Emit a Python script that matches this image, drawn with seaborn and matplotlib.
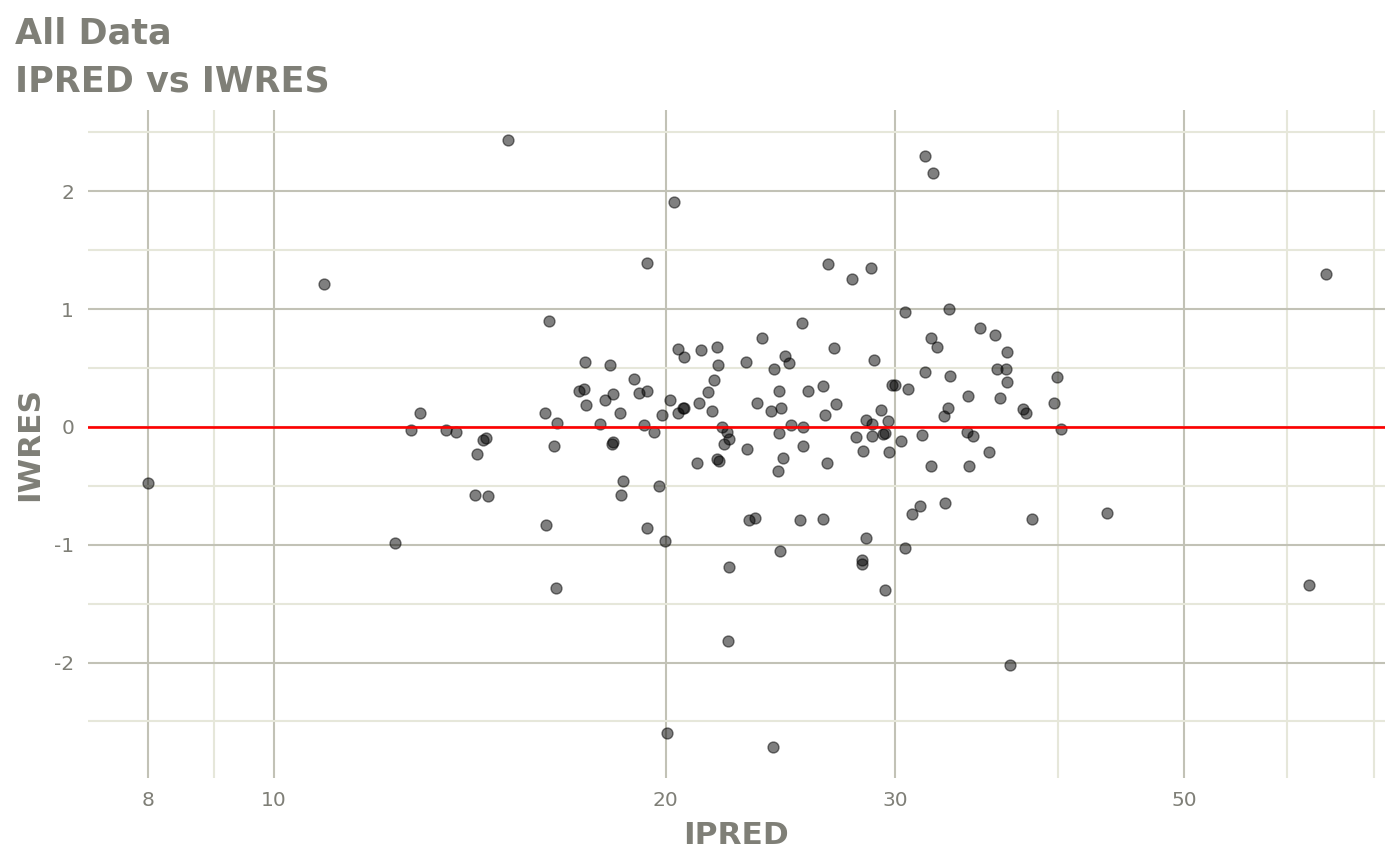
import matplotlib
matplotlib.use("Agg")
import matplotlib.pyplot as plt
import matplotlib.ticker as mticker
import seaborn as sns
import pandas as pd

# ---- data ----
ipred = [
    8.00, 10.93, 12.38, 12.74, 12.94, 13.55, 13.80, 14.32, 14.47, 14.55, 14.27, 14.60, 15.12,
    16.26, 17.33, 18.13, 17.14, 17.29, 17.35, 17.95, 18.21, 18.43, 18.92, 19.07, 19.34,
    20.13, 19.87, 20.43, 20.62, 20.65, 20.43, 20.64, 21.27, 21.21, 16.15, 16.49, 17.81,
    19.23, 19.59, 16.42, 18.20, 18.18, 21.12, 18.53, 18.47, 19.76, 16.18, 19.34, 19.96,
    25.44, 23.69, 21.90, 21.93, 23.06, 24.20, 24.71, 24.88, 26.91, 28.90, 30.52, 21.78,
    21.56, 21.70, 23.50, 24.43, 24.10, 24.53, 25.72, 26.40, 27.02, 26.48, 29.85, 29.98,
    30.70, 29.26, 28.48, 28.82, 29.63, 22.10, 22.30, 22.38, 22.15, 24.94, 25.48, 24.42,
    23.08, 25.51, 24.61, 24.38, 26.61, 28.01, 28.33, 28.78, 29.35, 29.47, 29.68, 30.29,
    21.91, 21.98, 23.15, 23.40, 25.35, 26.41, 28.48, 30.52, 24.46, 28.31, 28.31, 22.38,
    33.02, 34.84, 35.81, 31.99, 32.33, 36.60, 31.61, 33.08, 35.90, 36.51, 36.60, 39.92,
    34.15, 36.09, 39.71, 32.93, 32.73, 37.65, 37.82, 40.23, 31.47, 34.07, 34.41, 35.43,
    31.99, 34.19, 31.33, 30.90, 32.75, 38.23,
    43.63, 64.27, 62.37, 36.76, 31.62, 32.08, 20.29, 19.34, 26.64, 27.80, 28.74, 22.33,
    20.04, 24.17, 16.47, 29.47,
]
iwres = [
    -0.475, 1.214, -0.985, -0.025, 0.119, -0.025, -0.040, -0.230, -0.110, -0.090, -0.577, -0.586, 2.436,
    0.902, 0.552, 0.524, 0.303, 0.320, 0.184, 0.227, 0.278, 0.122, 0.407, 0.289, 0.308,
    0.229, 0.102, 0.116, 0.161, 0.165, 0.662, 0.592, 0.654, 0.201, 0.119, 0.031, 0.023,
    0.017, -0.045, -0.161, -0.130, -0.147, -0.306, -0.456, -0.577, -0.504, -0.832, -0.855, -0.970,
    0.883, 0.753, 0.682, 0.524, 0.552, 0.495, 0.605, 0.540, 0.673, 0.569, 0.979, 0.399,
    0.297, 0.136, 0.206, 0.306, 0.133, 0.164, 0.306, 0.351, 0.198, 0.102, 0.355, 0.360,
    0.323, 0.144, 0.059, 0.023, 0.054, 0.003, -0.040, -0.105, -0.144, 0.014, 0.000, -0.054,
    -0.184, -0.158, -0.266, -0.371, -0.306, -0.082, -0.204, -0.074, -0.059, -0.048, -0.215, -0.119,
    -0.272, -0.289, -0.787, -0.770, -0.787, -0.781, -0.940, -1.030, -1.050, -1.129, -1.166, -1.186,
    0.999, 0.843, 0.781, 0.756, 0.677, 0.637, 0.464, 0.433, 0.492, 0.492, 0.382, 0.422,
    0.260, 0.249, 0.204, 0.164, 0.091, 0.150, 0.119, -0.020, -0.068, -0.045, -0.076, -0.212,
    -0.328, -0.334, -0.671, -0.736, -0.643, -0.781,
    -0.730, 1.299, -1.341, -2.020, 2.300, 2.156, 1.910, 1.392, 1.384, 1.256, 1.350, -1.817,
    -2.598, -2.716, -1.367, -1.384,
]

x_major = [8, 10, 20, 30, 50]
x_major_labels = ["8", "10", "20", "30", "50"]
x_minor = [9, 40, 60, 70]
y_major = [-2, -1, 0, 1, 2]
y_major_labels = ["-2", "-1", "0", "1", "2"]
y_minor = [-2.5, -1.5, -0.5, 0.5, 1.5, 2.5]
ref_line = 0

title_line1 = "All Data"
title_line2 = "IPRED vs IWRES"
x_label = "IPRED"
y_label = "IWRES"

df = pd.DataFrame({"IPRED": ipred, "IWRES": iwres})

# ---- style ----
sns.set_theme(style="white")
plt.rcParams["font.family"] = ["DejaVu Sans"]

text_grey = "#7f7f77"
major_grid = "#c2c2b6"
minor_grid = "#e6e7da"

fig = plt.figure(figsize=(14, 8.65), dpi=100)
ax = fig.add_axes([88 / 1400, 1 - 778 / 865, (1385 - 88) / 1400, (778 - 110) / 865])

ax.set_xscale("log")
ax.set_xlim(7.196, 71.37)
ax.set_ylim(-2.98, 2.691)

ax.xaxis.set_major_locator(mticker.FixedLocator(x_major))
ax.xaxis.set_major_formatter(mticker.FixedFormatter(x_major_labels))
ax.xaxis.set_minor_locator(mticker.FixedLocator(x_minor))
ax.xaxis.set_minor_formatter(mticker.NullFormatter())
ax.yaxis.set_major_locator(mticker.FixedLocator(y_major))
ax.yaxis.set_major_formatter(mticker.FixedFormatter(y_major_labels))
ax.yaxis.set_minor_locator(mticker.FixedLocator(y_minor))

ax.set_axisbelow(True)
ax.grid(which="major", color=major_grid, linewidth=1.5)
ax.grid(which="minor", color=minor_grid, linewidth=1.5)
for s in ax.spines.values():
    s.set_visible(False)

ax.tick_params(which="major", axis="both", length=5, width=1.5, color="#7f7f7f",
               labelcolor=text_grey, labelsize=14.5, pad=4)
ax.tick_params(which="major", axis="y", pad=5)
ax.tick_params(which="minor", length=0)

sns.scatterplot(data=df, x="IPRED", y="IWRES", ax=ax, color="black", alpha=0.5,
                s=62, edgecolor="black", linewidth=1.0, zorder=2, legend=False)

ax.axhline(ref_line, color="#ff0000", linewidth=1.9, zorder=3)

ax.set_xlabel(x_label, fontsize=22.5, fontweight="bold", color=text_grey)
ax.set_ylabel(y_label, fontsize=22.5, fontweight="bold", color=text_grey)
ax.xaxis.set_label_coords(0.5, (778 - 836) / 668)
ax.yaxis.set_label_coords((30 - 88) / 1297, 0.5)
ax.xaxis.label.set_verticalalignment("center")
ax.yaxis.label.set_verticalalignment("center")

fig.text(15 / 1400, 1 - 44 / 865, title_line1, fontsize=25.2, fontweight="bold",
         color=text_grey, ha="left", va="baseline")
fig.text(15 / 1400, 1 - 91 / 865, title_line2, fontsize=25.2, fontweight="bold",
         color=text_grey, ha="left", va="baseline")

fig.savefig("out.png", dpi=100, facecolor="white")
